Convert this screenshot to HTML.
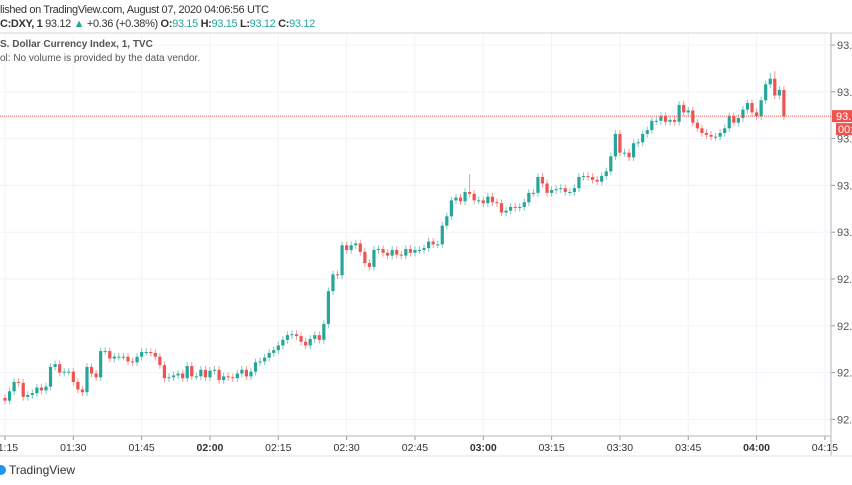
<!DOCTYPE html>
<html><head><meta charset="utf-8"><style>
html,body{margin:0;padding:0;width:852px;height:485px;overflow:hidden;background:#fff;font-family:"Liberation Sans",sans-serif;}
.t{position:absolute;white-space:nowrap;color:#131722;}
</style></head><body>
<div class="t" style="left:0;top:4px;font-size:11px;letter-spacing:-0.35px;color:#333;">lished on TradingView.com, August 07, 2020 04:06:56 UTC</div>
<div class="t" style="left:0;top:18px;font-size:11px;letter-spacing:-0.35px;color:#333;"><b>C:DXY, 1</b> 93.12 <span style="color:#26a69a">▲</span> +0.36 (+0.38%) <b>O:</b><span style="color:#26a69a">93.15</span> <b>H:</b><span style="color:#26a69a">93.15</span> <b>L:</b><span style="color:#26a69a">93.12</span> <b>C:</b><span style="color:#26a69a">93.12</span></div>
<svg id="c" width="852" height="485" style="position:absolute;left:0;top:0"></svg>
<div class="t" style="left:0;top:39px;font-size:10px;font-weight:bold;color:#555;">S. Dollar Currency Index, 1, TVC</div>
<div class="t" style="left:0;top:53px;font-size:10px;color:#555;">ol: No volume is provided by the data vendor.</div>
<div class="t" style="left:0;top:463px;font-size:12px;color:#333;"><span style="display:inline-block;width:6px;height:10px;background:#2196f3;border-radius:0 5px 5px 0;vertical-align:-1px;margin-right:3px"></span>TradingView</div>
<script>
const firstOpen = 92.823;
const closes = [92.820,92.830,92.840,92.839,92.824,92.826,92.828,92.834,92.831,92.835,
92.856,92.859,92.850,92.851,92.851,92.840,92.832,92.829,92.856,92.849,
92.845,92.873,92.873,92.865,92.867,92.867,92.867,92.862,92.861,92.867,
92.872,92.872,92.871,92.867,92.858,92.844,92.845,92.847,92.849,92.844,
92.857,92.846,92.846,92.853,92.845,92.852,92.853,92.842,92.846,92.845,
92.844,92.849,92.853,92.846,92.851,92.861,92.862,92.866,92.871,92.874,
92.879,92.885,92.890,92.891,92.889,92.883,92.879,92.886,92.890,92.885,
92.902,92.937,92.955,92.954,92.986,92.981,92.986,92.988,92.979,92.967,
92.963,92.981,92.982,92.978,92.975,92.981,92.976,92.975,92.982,92.978,
92.981,92.981,92.983,92.990,92.987,92.987,93.007,93.017,93.034,93.037,
93.033,93.043,93.041,93.034,93.034,93.031,93.038,93.032,93.031,93.021,
93.023,93.027,93.026,93.027,93.032,93.042,93.042,93.059,93.052,93.042,
93.045,93.046,93.047,93.043,93.043,93.047,93.059,93.060,93.059,93.056,
93.054,93.060,93.065,93.081,93.105,93.085,93.085,93.080,93.095,93.096,
93.105,93.109,93.119,93.119,93.124,93.118,93.120,93.118,93.136,93.128,
93.130,93.117,93.111,93.106,93.104,93.102,93.102,93.106,93.111,93.124,
93.117,93.122,93.131,93.138,93.128,93.124,93.141,93.158,93.164,93.146,
93.152,93.124];
const spikeHighs = {102: 93.062, 168: 93.170, 169: 93.172};
const priceTicks = ["93.20","93.15","93.10","93.05","93.00","92.95","92.90","92.85","92.80"];
const priceTickValues = [93.20,93.15,93.10,93.05,93.00,92.95,92.90,92.85,92.80];
const timeLabels = ["01:15","01:30","01:45","02:00","02:15","02:30","02:45","03:00","03:15","03:30","03:45","04:00","04:15"];
const timeMinutes = [75,90,105,120,135,150,165,180,195,210,225,240,255];
const firstBarMinute = 75;
const lastPrice = "93.12";
const countdown = "00:04";

const NS="http://www.w3.org/2000/svg";
const svg=document.getElementById('c');
const PL=0, PR=831, PT=33, PB=436;
function yOf(p){return 45+(93.20-p)*936;}
function xOf(m){return 5+(m-75)*4.555;}
function mk(tag,attrs,parent){const e=document.createElementNS(NS,tag);for(const k in attrs)e.setAttribute(k,attrs[k]);(parent||svg).appendChild(e);return e;}

priceTickValues.forEach((v,i)=>{
  const g=mk('line',{x1:PL,x2:PR,y1:yOf(v),y2:yOf(v),stroke:'#f0f3fa','stroke-width':1});
  
  
  const t=mk('text',{x:PR+6,y:yOf(v)+4,'font-size':11,fill:'#555','font-family':'Liberation Sans, sans-serif'});
  t.textContent=priceTicks[i];
  
  
  mk('line',{x1:PR,x2:PR+4,y1:yOf(v),y2:yOf(v),stroke:'#999'});
});
timeMinutes.forEach((m,i)=>{
  const x=xOf(m);
  const g=mk('line',{x1:x,x2:x,y1:PT,y2:PB,stroke:'#f0f3fa'});
  
  
  mk('line',{x1:x,x2:x,y1:PB,y2:PB+4,stroke:'#999'});
  const t=mk('text',{x:x,y:PB+15,'font-size':10.5,fill:'#333','text-anchor':'middle','font-weight':timeLabels[i]==='02:00'||timeLabels[i]==='03:00'||timeLabels[i]==='04:00'?'bold':'normal','font-family':'Liberation Sans, sans-serif'});
  t.textContent=timeLabels[i];
  
  
});
mk('line',{x1:0,x2:852,y1:PT,y2:PT,stroke:'#d6d6d6'});
mk('line',{x1:0,x2:PR,y1:PB,y2:PB,stroke:'#b2b5be'});
mk('line',{x1:PR,x2:PR,y1:PT,y2:PB+20,stroke:'#b2b5be'});
mk('line',{x1:0,x2:852,y1:PB+20,y2:PB+20,stroke:'#e0e3eb'});

let prev=firstOpen;
closes.forEach((c,i)=>{
  const o=prev; prev=c;
  const x=xOf(firstBarMinute+i);
  const up=c>=o, col=up?'#26a69a':'#ef5350';
  const hi=spikeHighs[i]!==undefined?spikeHighs[i]:Math.max(o,c)+0.004;
  const lo=Math.min(o,c)-0.004;
  const w=mk('line',{x1:x,x2:x,y1:yOf(hi),y2:yOf(lo),stroke:col,'stroke-width':1,opacity:0.6});
  
  
  const yt=yOf(Math.max(o,c)), yb=yOf(Math.min(o,c));
  const b=mk('rect',{x:x-1.6,y:yt,width:3.2,height:Math.max(1,yb-yt),fill:col});
  
  
});

const lp=yOf(closes[closes.length-1]);
mk('line',{x1:0,x2:PR,y1:lp,y2:lp,stroke:'#ef5350','stroke-dasharray':'1 1','stroke-width':1});
const lb=mk('rect',{x:PR+1,y:lp-6,width:25,height:12,fill:'#ef5350'});


const lt=mk('text',{x:PR+5,y:lp+4,'font-size':11,fill:'#fff','font-family':'Liberation Sans, sans-serif'});
lt.textContent=lastPrice;
const cb=mk('rect',{x:PR+5,y:lp+7,width:25,height:12,fill:'#ef5350'});


const ct=mk('text',{x:PR+7,y:lp+17,'font-size':11,fill:'#fff','font-family':'Liberation Sans, sans-serif'});
ct.textContent=countdown;
</script>
</body></html>
